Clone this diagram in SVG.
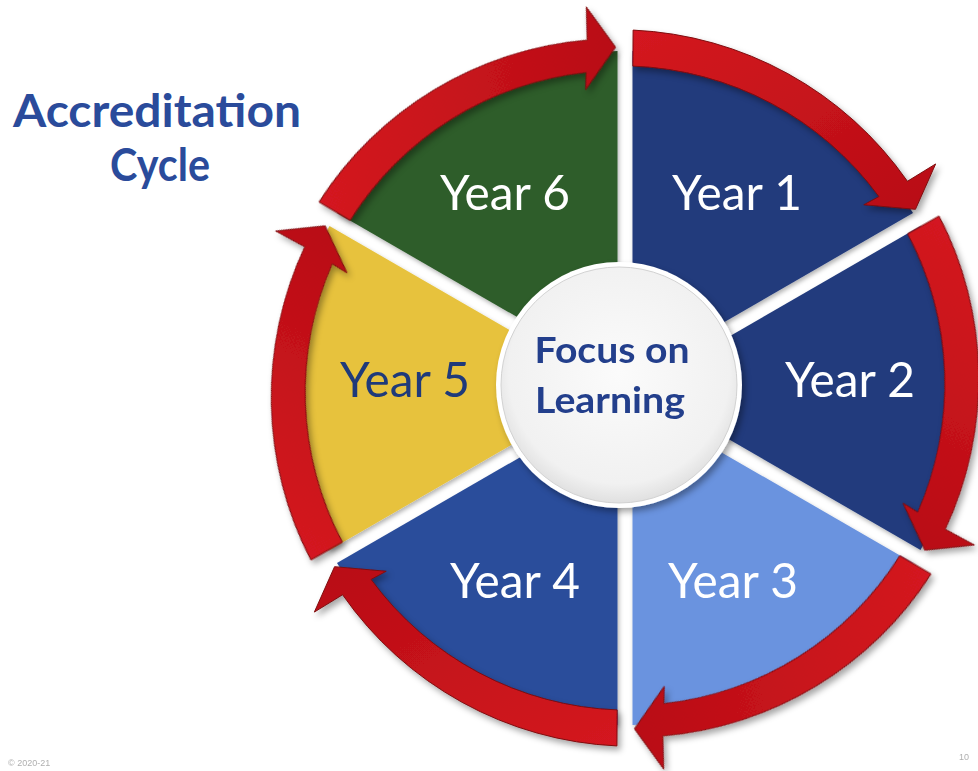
<svg xmlns="http://www.w3.org/2000/svg" width="978" height="771" viewBox="0 0 978 771">
<defs>
<filter id="sh" x="-20%" y="-20%" width="140%" height="140%"><feDropShadow dx="3" dy="4" stdDeviation="3" flood-color="#000" flood-opacity="0.35"/></filter>
<filter id="shs" x="-20%" y="-20%" width="140%" height="140%"><feDropShadow dx="1.5" dy="2.5" stdDeviation="2" flood-color="#000" flood-opacity="0.3"/></filter>
<radialGradient id="cg" cx="50%" cy="45%" r="55%"><stop offset="0" stop-color="#fbfbfb"/><stop offset="0.85" stop-color="#f1f1f1"/><stop offset="1" stop-color="#e0e0e0"/></radialGradient>
<linearGradient id="rg" x1="0" y1="0" x2="1" y2="1"><stop offset="0" stop-color="#d41820"/><stop offset="1" stop-color="#b80d15"/></linearGradient>
<path id="arrow" d="M 632.87 66.10 L 633.12 30.09 A 354 354 0 0 1 907.44 181.29 L 935.64 163.96 L 915.44 209.32 L 863.80 204.76 L 878.97 196.62 A 320 320 0 0 0 632.87 66.10 Z"/>
</defs>
<style>
.wl{font-family:Lato,"Open Sans",sans-serif;font-size:48px;fill:#ffffff;text-anchor:middle}
.title{font-family:Lato,"Open Sans",sans-serif;font-weight:bold;font-size:46px;fill:#2a4b9b;text-anchor:middle}
.ctr{font-family:Lato,"Open Sans",sans-serif;font-weight:bold;font-size:36px;fill:#233f8c;text-anchor:middle}
.foot{font-family:"Liberation Sans",sans-serif;font-size:9px;fill:#b0b0b0}
.arr{fill:url(#rg);stroke:#7e0a0e;stroke-width:1}
</style>
<rect width="978" height="771" fill="#ffffff"/>
<g id="title">
<text class="title" x="157" y="127" textLength="288" lengthAdjust="spacingAndGlyphs">Accreditation</text>
<text class="title" x="160" y="181" textLength="100" lengthAdjust="spacingAndGlyphs">Cycle</text>
</g>
<g id="wedges" filter="url(#shs)">
<g id="year1"><path d="M 632.5 375.01 L 632.5 51.08 A 337 337 0 0 1 913.03 213.05 Z" fill="#223a7b"/></g>
<g id="year2"><path d="M 640 388 L 920.53 226.04 A 337 337 0 0 1 920.53 549.97 Z" fill="#223b7d"/></g>
<g id="year3"><path d="M 632.5 400.99 L 913.03 562.96 A 337 337 0 0 1 632.5 724.92 Z" fill="#6a93df"/></g>
<g id="year4"><path d="M 617.5 400.99 L 617.5 724.92 A 337 337 0 0 1 336.97 562.96 Z" fill="#2c4e9b"/></g>
<g id="year5"><path d="M 610 388 L 329.47 549.97 A 337 337 0 0 1 329.47 226.04 Z" fill="#e7c23c"/></g>
<g id="year6"><path d="M 617.5 375.01 L 336.97 213.05 A 337 337 0 0 1 617.5 51.08 Z" fill="#2e5d2b"/></g>
</g>
<g id="connectors" filter="url(#sh)">
<use href="#arrow" class="arr"/>
<use href="#arrow" class="arr" transform="rotate(60 625 388)"/>
<use href="#arrow" class="arr" transform="rotate(120 625 388)"/>
<use href="#arrow" class="arr" transform="rotate(180 625 388)"/>
<use href="#arrow" class="arr" transform="rotate(240 625 388)"/>
<use href="#arrow" class="arr" transform="rotate(300 625 388)"/>
</g>
<g id="labels">
<text class="wl" x="737" y="210" textLength="130" lengthAdjust="spacingAndGlyphs">Year 1</text>
<text class="wl" x="850" y="397" textLength="130" lengthAdjust="spacingAndGlyphs">Year 2</text>
<text class="wl" x="733" y="598" textLength="130" lengthAdjust="spacingAndGlyphs">Year 3</text>
<text class="wl" x="515" y="598" textLength="130" lengthAdjust="spacingAndGlyphs">Year 4</text>
<text class="wl" x="405" y="397" textLength="130" lengthAdjust="spacingAndGlyphs" style="fill:#1f3a7a">Year 5</text>
<text class="wl" x="505" y="210" textLength="130" lengthAdjust="spacingAndGlyphs">Year 6</text>
</g>
<g id="center">
<circle cx="619" cy="385" r="123" fill="#ffffff" filter="url(#sh)"/>
<circle cx="619" cy="385" r="118" fill="url(#cg)" stroke="#d2d2d2" stroke-width="1"/>
<text class="ctr" x="612" y="363" textLength="155" lengthAdjust="spacingAndGlyphs">Focus on</text>
<text class="ctr" x="610" y="413" textLength="150" lengthAdjust="spacingAndGlyphs">Learning</text>
</g>
<g id="footer">
<text class="foot" x="8" y="766">© 2020-21</text>
<text class="foot" x="959" y="760">10</text>
</g>
</svg>
